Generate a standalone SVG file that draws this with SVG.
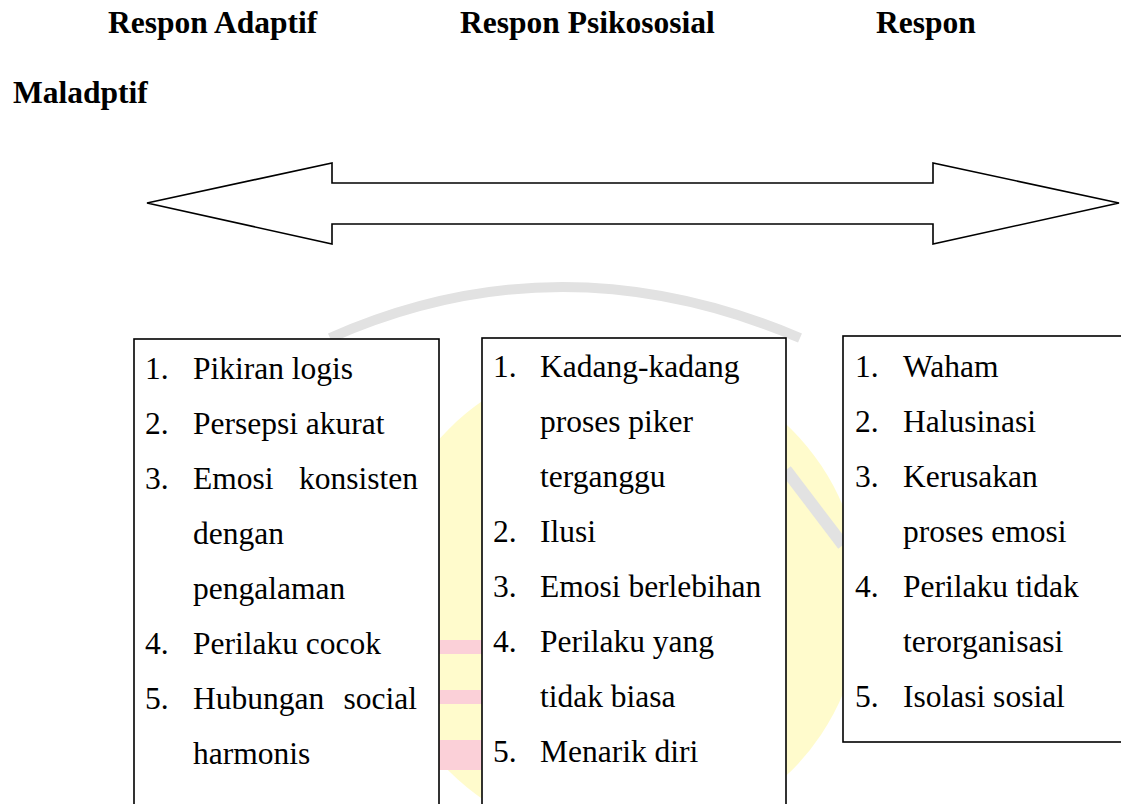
<svg xmlns="http://www.w3.org/2000/svg" width="1121" height="804" viewBox="0 0 1121 804" font-family="'Liberation Serif', 'Times New Roman', serif">
<style>
text{font-family:"Liberation Serif","Times New Roman",serif;font-size:31.5px;fill:#000}
.h{font-weight:bold}
.box{fill:#fff;stroke:#000;stroke-width:1.6}
.arrow{fill:#fff;stroke:#000;stroke-width:1.6;stroke-linejoin:miter}
</style>
<rect width="1121" height="804" fill="#fff"/>
<g id="watermark">
<circle cx="620" cy="600" r="242" fill="#fffbcc"/>
<path d="M330,338 Q560,236 800,338" fill="none" stroke="#e2e2e2" stroke-width="10"/>
<path d="M786,470 L843,545" fill="none" stroke="#e2e2e2" stroke-width="12"/>
<rect x="439" y="640" width="43" height="14" fill="#fbd0d8"/>
<rect x="439" y="690" width="43" height="14" fill="#fbd0d8"/>
<rect x="439" y="740" width="43" height="30" fill="#fbd0d8"/>
</g>
<g id="headers">
<text class="h" x="108" y="33">Respon Adaptif</text>
<text class="h" x="460" y="33">Respon Psikososial</text>
<text class="h" x="876" y="33">Respon</text>
<text class="h" x="13" y="103">Maladptif</text>
</g>
<g id="connectors">
<path class="arrow" d="M147,203 L332,163 L332,183 L933,183 L933,163 L1119,203 L933,244 L933,224 L332,224 L332,244 Z"/>
</g>
<g id="box-adaptif">
<rect class="box" x="134" y="339" width="305" height="480"/>
<text x="145" y="379">1.</text><text x="193" y="379">Pikiran logis</text>
<text x="145" y="434">2.</text><text x="193" y="434">Persepsi akurat</text>
<text x="145" y="489">3.</text><text x="193" y="489">Emosi</text><text x="418" y="489" text-anchor="end">konsisten</text>
<text x="193" y="544">dengan</text>
<text x="193" y="599">pengalaman</text>
<text x="145" y="654">4.</text><text x="193" y="654">Perilaku cocok</text>
<text x="145" y="709">5.</text><text x="193" y="709">Hubungan</text><text x="417" y="709" text-anchor="end">social</text>
<text x="193" y="764">harmonis</text>
</g>
<g id="box-psikososial">
<rect class="box" x="482" y="338" width="304" height="480"/>
<text x="493" y="377">1.</text><text x="540" y="377">Kadang-kadang</text>
<text x="540" y="432">proses piker</text>
<text x="540" y="487">terganggu</text>
<text x="493" y="542">2.</text><text x="540" y="542">Ilusi</text>
<text x="493" y="597">3.</text><text x="540" y="597">Emosi berlebihan</text>
<text x="493" y="652">4.</text><text x="540" y="652">Perilaku yang</text>
<text x="540" y="707">tidak biasa</text>
<text x="493" y="762">5.</text><text x="540" y="762">Menarik diri</text>
</g>
<g id="box-maladaptif">
<rect class="box" x="843" y="336" width="290" height="406"/>
<text x="855" y="377">1.</text><text x="903" y="377">Waham</text>
<text x="855" y="432">2.</text><text x="903" y="432">Halusinasi</text>
<text x="855" y="487">3.</text><text x="903" y="487">Kerusakan</text>
<text x="903" y="542">proses emosi</text>
<text x="855" y="597">4.</text><text x="903" y="597">Perilaku tidak</text>
<text x="903" y="652">terorganisasi</text>
<text x="855" y="707">5.</text><text x="903" y="707">Isolasi sosial</text>
</g>
</svg>
